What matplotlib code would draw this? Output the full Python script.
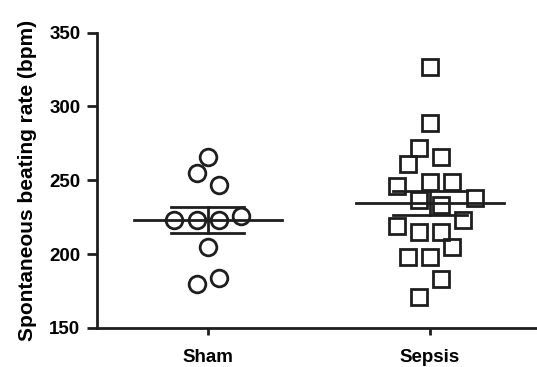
import numpy as np
import matplotlib
matplotlib.use('Agg')
import matplotlib.pyplot as plt

plt.rcParams['font.family'] = ['Liberation Sans', 'DejaVu Sans']
plt.rcParams['font.weight'] = 'bold'

groups = ['Sham', 'Sepsis']

# beating rates (bpm)
sham = [266, 255, 247, 223, 223, 223, 226, 205, 180, 184]
sham_dx = [0, -0.05, 0.05, -0.15, -0.05, 0.05, 0.15, 0, -0.05, 0.05]

sepsis = [327, 289, 272, 266, 261, 249, 249, 246, 237, 238,
          233, 223, 219, 215, 215, 205, 198, 198, 183, 171]
sepsis_dx = [0, 0, -0.05, 0.05, -0.1, 0, 0.1, -0.15, -0.05, 0.2,
             0.05, 0.15, -0.15, -0.05, 0.05, 0.1, -0.1, 0, 0.05, -0.05]

fig = plt.figure(figsize=(5.37, 3.67), dpi=100)
ax = fig.add_axes([0.1806, 0.1063, 0.8194, 0.8047])

for i, (vals, dx, mk) in enumerate([(sham, sham_dx, 'o'), (sepsis, sepsis_dx, 's')]):
	x = i + np.array(dx)
	ax.plot(x, vals, mk, ms=12, mfc='none', mec='#1e1e1e', mew=2, zorder=3, clip_on=False)
	m = np.mean(vals)
	sem = np.std(vals, ddof=1) / np.sqrt(len(vals))
	ax.plot([i - 0.333, i + 0.333], [m, m], color='#1e1e1e', lw=2, zorder=2)
	ax.plot([i - 0.165, i + 0.165], [m + sem, m + sem], color='#1e1e1e', lw=2, zorder=2)
	ax.plot([i - 0.165, i + 0.165], [m - sem, m - sem], color='#1e1e1e', lw=2, zorder=2)
	ax.plot([i, i], [m - sem, m + sem], color='#1e1e1e', lw=2, zorder=2)

ax.set_xlim(-0.498, 1.481)
ax.set_ylim(150, 350)
ax.set_yticks([150, 200, 250, 300, 350])
ax.set_xticks([0, 1])
ax.set_xticklabels(groups)

for s in ['top', 'right']:
	ax.spines[s].set_visible(False)
for s in ['left', 'bottom']:
	ax.spines[s].set_linewidth(2)
	ax.spines[s].set_color('#1e1e1e')

ax.tick_params(axis='y', length=7, width=2, color='#1e1e1e', labelsize=13.5, pad=5)
ax.tick_params(axis='x', length=5, width=2, color='#1e1e1e', labelsize=13.5, pad=10)

ax.set_ylabel('Spontaneous beating rate (bpm)', fontsize=15, fontweight='bold', labelpad=9)

fig.savefig('out.png', dpi=100)
